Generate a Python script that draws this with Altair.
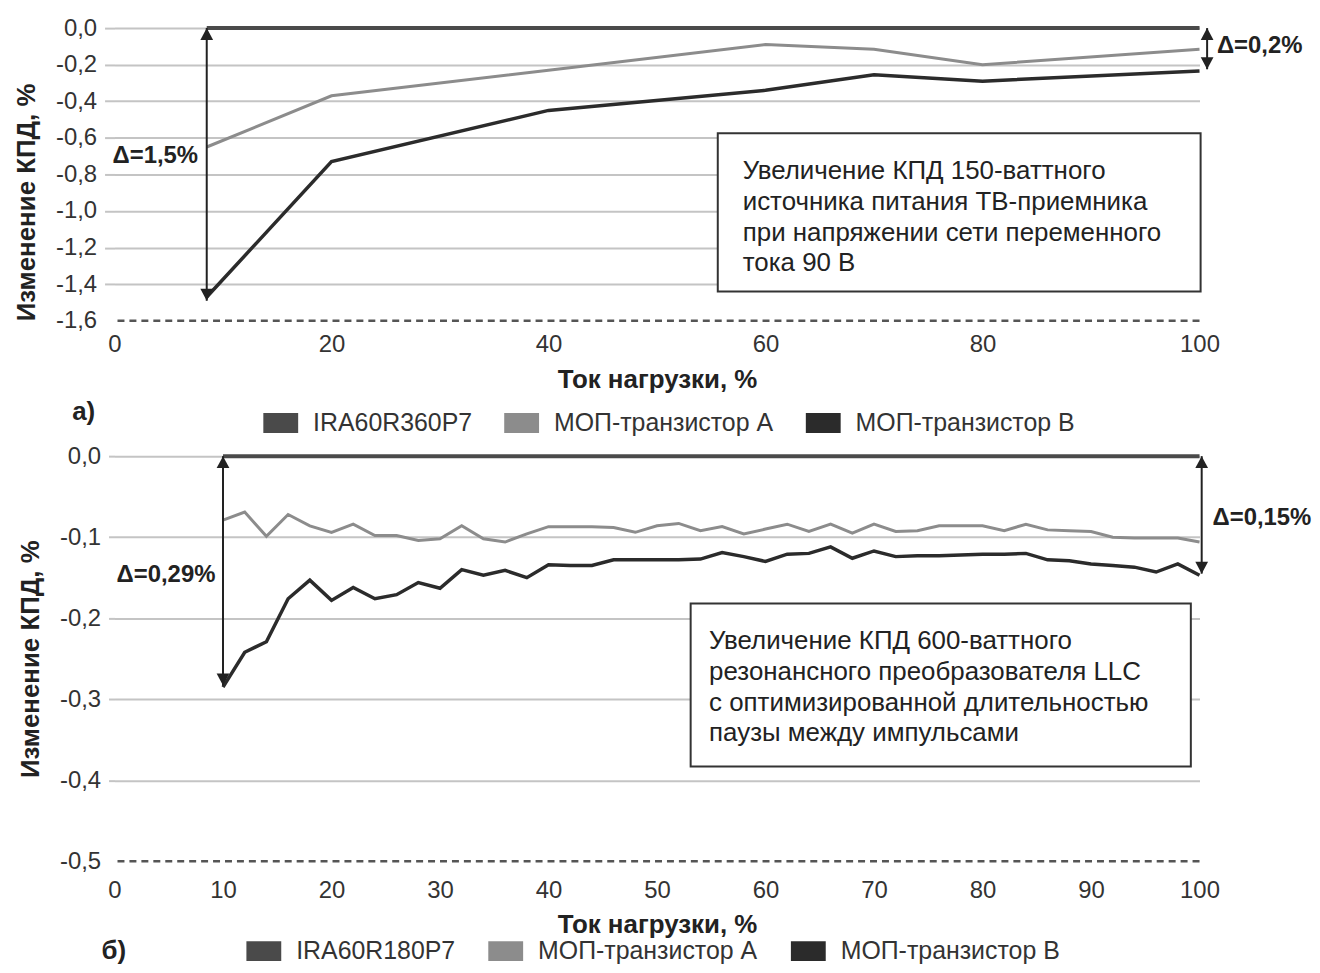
import altair as alt
import pandas as pd

FONT = "Liberation Sans"
INK = "#222222"
LABEL = "#333333"
GRID = "#c4c4c4"

SERIES_COLORS = ["#4a4a4a", "#8c8c8c", "#2b2b2b"]
SWATCH_PATH = "M-1.75,-1H1.75V1H-1.75Z"

# ---------------- panel а) ----------------
top_series = ["IRA60R360P7", "МОП-транзистор А", "МОП-транзистор В"]
top_ref_load = [8.5, 100]
top_ref_value = [0.0, 0.0]
top_load = [8.5, 20, 40, 60, 70, 80, 100]
top_mosfet_a = [-0.65, -0.37, -0.23, -0.09, -0.115, -0.20, -0.115]
top_mosfet_b = [-1.47, -0.73, -0.45, -0.34, -0.255, -0.29, -0.235]
top_x_ticks = [0, 20, 40, 60, 80, 100]
top_y_ticks = [0.0, -0.2, -0.4, -0.6, -0.8, -1.0, -1.2, -1.4, -1.6]
top_y_min = -1.6
top_arrow_x = [8.5, 100.7]
top_arrow_from = [0.0, 0.0]
top_arrow_to = [-1.49, -0.225]
top_delta_left = ("Δ=1,5%", 7.7, -0.70)
top_delta_right = ("Δ=0,2%", 101.6, -0.10)
top_box_x = [55.6, 100.1]
top_box_y = [-0.575, -1.44]
top_box_text_xy = (57.9, -0.71)
top_box_lines = ["Увеличение КПД 150-ваттного",
                 "источника питания ТВ-приемника",
                 "при напряжении сети переменного",
                 "тока 90 В"]
top_panel_label = ("а)", -3.9, -2.10)

# ---------------- panel б) ----------------
bottom_series = ["IRA60R180P7", "МОП-транзистор А", "МОП-транзистор В"]
bottom_ref_load = [10, 100]
bottom_ref_value = [0.0, 0.0]
bottom_load = [10, 12, 14, 16, 18, 20, 22, 24, 26, 28, 30, 32, 34, 36, 38, 40,
               42, 44, 46, 48, 50, 52, 54, 56, 58, 60, 62, 64, 66, 68, 70, 72,
               74, 76, 78, 80, 82, 84, 86, 88, 90, 92, 94, 96, 98, 100]
bottom_mosfet_a = [-0.079, -0.069, -0.099, -0.072, -0.086, -0.094, -0.084, -0.098,
                   -0.098, -0.104, -0.102, -0.086, -0.102, -0.106, -0.096, -0.087,
                   -0.087, -0.087, -0.088, -0.094, -0.086, -0.083, -0.092, -0.087,
                   -0.096, -0.090, -0.084, -0.093, -0.084, -0.095, -0.084, -0.093,
                   -0.092, -0.086, -0.086, -0.086, -0.092, -0.084, -0.091, -0.092,
                   -0.093, -0.100, -0.101, -0.101, -0.101, -0.106]
bottom_mosfet_b = [-0.285, -0.242, -0.229, -0.176, -0.153, -0.178, -0.162, -0.176,
                   -0.171, -0.156, -0.163, -0.140, -0.147, -0.141, -0.150, -0.134,
                   -0.135, -0.135, -0.128, -0.128, -0.128, -0.128, -0.127, -0.119,
                   -0.124, -0.130, -0.121, -0.120, -0.112, -0.126, -0.117, -0.124,
                   -0.123, -0.123, -0.122, -0.121, -0.121, -0.120, -0.128, -0.129,
                   -0.133, -0.135, -0.137, -0.143, -0.133, -0.147]
bottom_x_ticks = [0, 10, 20, 30, 40, 50, 60, 70, 80, 90, 100]
bottom_y_ticks = [0.0, -0.1, -0.2, -0.3, -0.4, -0.5]
bottom_y_min = -0.5
bottom_arrow_x = [10, 100.2]
bottom_arrow_from = [0.0, 0.0]
bottom_arrow_to = [-0.283, -0.145]
bottom_delta_left = ("Δ=0,29%", 9.3, -0.147)
bottom_delta_right = ("Δ=0,15%", 101.2, -0.076)
bottom_box_x = [53.1, 99.2]
bottom_box_y = [-0.182, -0.383]
bottom_box_text_xy = (54.8, -0.212)
bottom_box_lines = ["Увеличение КПД 600-ваттного",
                    "резонансного преобразователя LLC",
                    "с оптимизированной длительностью",
                    "паузы между импульсами"]
bottom_panel_label = ("б)", -1.2, -0.611)

LABEL_EXPR = "replace(replace(format(datum.value, '.1f'), '.', ','), '\u2212', '-')"


def panel(series, ref_load, ref_value, load, a_vals, b_vals, x_ticks, y_ticks,
          y_min, width, height, tick_size, x_label_pad, y_title_anchor,
          arrow_x, arrow_from, arrow_to, delta_left, delta_right,
          box_x, box_y, box_text_xy, box_lines, panel_label, legend_xy, col_pad):
    xs = alt.Scale(domain=[0, 100], nice=False, zero=False)
    ys = alt.Scale(domain=[y_min, 0], nice=False, zero=False)
    x_axis = alt.Axis(values=x_ticks, grid=False, ticks=False, domain=False,
                      labelFontSize=24, labelColor=LABEL, labelPadding=x_label_pad,
                      labelFlush=False, title="Ток нагрузки, %", titleFontSize=26,
                      titleFontWeight="bold", titleColor=INK, titlePadding=10)
    y_axis = alt.Axis(values=y_ticks, labelExpr=LABEL_EXPR, grid=True,
                      gridColor=GRID, gridWidth=2,
                      gridOpacity={"condition": {"test": f"datum.value < {y_min + 0.01}", "value": 0}, "value": 1},
                      tickOpacity={"condition": {"test": f"datum.value < {y_min + 0.01}", "value": 0}, "value": 1},
                      tickSize=tick_size, tickColor=GRID, tickWidth=2, domain=False,
                      labelFontSize=24, labelColor=LABEL, labelPadding=8,
                      title="Изменение КПД, %", titleFontSize=26, titleFontWeight="bold",
                      titleColor=INK, titlePadding=16, titleAnchor=y_title_anchor)
    X = lambda: alt.X("x:Q", scale=xs, axis=x_axis)
    Y = lambda: alt.Y("y:Q", scale=ys, axis=y_axis)

    stroke = alt.Stroke("series:N", scale=alt.Scale(domain=series, range=SERIES_COLORS),
                        legend=None)
    fill = alt.Fill(
        "series:N",
        scale=alt.Scale(domain=series, range=SERIES_COLORS),
        legend=alt.Legend(title=None, orient="none", legendX=legend_xy[0],
                          legendY=legend_xy[1], direction="horizontal",
                          symbolType=SWATCH_PATH, symbolSize=400, symbolStrokeWidth=0,
                          symbolOpacity=1, labelFontSize=25, labelFont=FONT,
                          labelColor=LABEL, labelLimit=500, columnPadding=col_pad,
                          labelOffset=20),
    )

    dashed_df = pd.DataFrame({"y": [y_min]})
    ref_df = pd.DataFrame({"x": ref_load, "y": ref_value, "series": series[0]})
    a_df = pd.DataFrame({"x": load, "y": a_vals, "series": series[1]})
    b_df = pd.DataFrame({"x": load, "y": b_vals, "series": series[2]})
    all_df = pd.concat([ref_df, a_df, b_df], ignore_index=True)
    arrows_df = pd.DataFrame({"x": arrow_x, "y": arrow_from, "y2": arrow_to})
    heads_up_df = pd.DataFrame({"x": arrow_x, "y": arrow_from})
    heads_down_df = pd.DataFrame({"x": arrow_x, "y": arrow_to})
    box_df = pd.DataFrame({"x": [box_x[0]], "x2": [box_x[1]], "y": [box_y[0]], "y2": [box_y[1]]})
    box_text_df = pd.DataFrame({"x": [box_text_xy[0]], "y": [box_text_xy[1]]})
    dl_df = pd.DataFrame({"x": [delta_left[1]], "y": [delta_left[2]], "t": [delta_left[0]]})
    dr_df = pd.DataFrame({"x": [delta_right[1]], "y": [delta_right[2]], "t": [delta_right[0]]})
    pl_df = pd.DataFrame({"x": [panel_label[1]], "y": [panel_label[2]], "t": [panel_label[0]]})

    dashed = alt.Chart(dashed_df).mark_rule(strokeDash=[7, 5], color="#555555").encode(
        y=Y(), strokeWidth=alt.value(2.5))
    legend_src = alt.Chart(all_df).mark_point(filled=True, opacity=0, size=1).encode(
        x=X(), y=Y(), fill=fill)
    ref_line = alt.Chart(ref_df).mark_line().encode(x=X(), y=Y(), stroke=stroke,
                                                    strokeWidth=alt.value(4))
    a_line = alt.Chart(a_df).mark_line().encode(x=X(), y=Y(), stroke=stroke,
                                                strokeWidth=alt.value(3))
    b_line = alt.Chart(b_df).mark_line().encode(x=X(), y=Y(), stroke=stroke,
                                                strokeWidth=alt.value(3.5))
    shafts = alt.Chart(arrows_df).mark_rule(color=INK, strokeWidth=2).encode(
        x=X(), y=Y(), y2="y2:Q")
    heads_up = alt.Chart(heads_up_df).mark_point(
        shape="M0,0L-0.8,1.5L0.8,1.5Z", filled=True, size=256, color=INK, opacity=1
    ).encode(x=X(), y=Y())
    heads_down = alt.Chart(heads_down_df).mark_point(
        shape="M0,0L-0.8,-1.5L0.8,-1.5Z", filled=True, size=256, color=INK, opacity=1
    ).encode(x=X(), y=Y())
    box = alt.Chart(box_df).mark_rect(fill="white", stroke="#333333", strokeWidth=2).encode(
        x=X(), x2="x2:Q", y=Y(), y2="y2:Q")
    box_text = alt.Chart(box_text_df).mark_text(
        align="left", baseline="top", fontSize=26, lineHeight=31, color=INK, font=FONT
    ).encode(x=X(), y=Y(), text=alt.value(box_lines))
    dl = alt.Chart(dl_df).mark_text(align="right", baseline="middle", fontSize=24,
                                    fontWeight="bold", color=INK, font=FONT).encode(
        x=X(), y=Y(), text="t:N")
    dr = alt.Chart(dr_df).mark_text(align="left", baseline="middle", fontSize=24,
                                    fontWeight="bold", color=INK, font=FONT).encode(
        x=X(), y=Y(), text="t:N")
    pl = alt.Chart(pl_df).mark_text(align="left", baseline="middle", fontSize=26,
                                    fontWeight="bold", color=INK, font=FONT).encode(
        x=X(), y=Y(), text="t:N")

    return alt.layer(dashed, legend_src, ref_line, a_line, b_line, shafts, heads_up,
                     heads_down, box, box_text, dl, dr, pl).properties(width=width,
                                                                       height=height)


top = panel(top_series, top_ref_load, top_ref_value, top_load, top_mosfet_a,
            top_mosfet_b, top_x_ticks, top_y_ticks, top_y_min, 1090, 294, 10, 12,
            "start", top_arrow_x, top_arrow_from, top_arrow_to, top_delta_left,
            top_delta_right, top_box_x, top_box_y, top_box_text_xy, top_box_lines,
            top_panel_label, (154.5, 384), 32)

bottom = panel(bottom_series, bottom_ref_load, bottom_ref_value, bottom_load,
               bottom_mosfet_a, bottom_mosfet_b, bottom_x_ticks, bottom_y_ticks,
               bottom_y_min, 1090, 407, 6, 17, "middle", bottom_arrow_x,
               bottom_arrow_from, bottom_arrow_to, bottom_delta_left,
               bottom_delta_right, bottom_box_x, bottom_box_y, bottom_box_text_xy,
               bottom_box_lines, bottom_panel_label, (137.5, 484.5), 33)

chart = alt.vconcat(top, bottom, spacing=8).resolve_scale(
    fill="independent", stroke="independent").properties(
    padding={"left": 5, "top": 6, "right": 0, "bottom": 0},
    background="white",
).configure(font=FONT).configure_view(stroke=None)

chart.save("out.html", embed_options={"renderer": "svg", "actions": False})
